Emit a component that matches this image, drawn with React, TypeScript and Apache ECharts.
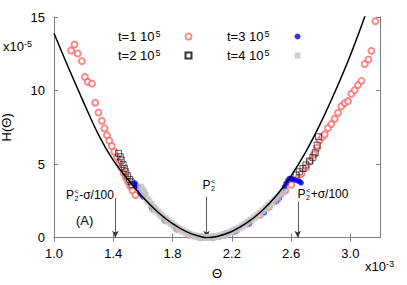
import React, { useEffect, useRef } from "react";
import * as echarts from "echarts";

// theoretical curve (Θ in 1e-3, H in 1e-5)
const curveTheta = [1.0, 1.1, 1.2, 1.3, 1.4, 1.5, 1.6, 1.7, 1.8, 1.9, 2.0, 2.03, 2.1, 2.2, 2.3, 2.4, 2.5, 2.6, 2.7, 2.8, 2.9, 3.0, 3.1];
const curveH = [13.9, 11.5, 9.2, 7.0, 5.25, 3.95, 2.75, 1.75, 0.95, 0.38, 0.05, 0.0, 0.08, 0.42, 1.0, 1.8, 2.85, 4.2, 5.85, 7.8, 10.0, 12.4, 15.1];

// t = 1 10^5 (open red circles)
const t1Theta = [1.115, 1.138, 1.16, 1.188, 1.208, 1.228, 1.256, 1.278, 1.3, 1.323, 1.341, 1.357, 1.373, 1.39, 1.407, 1.425, 1.44, 1.455, 1.47, 1.485, 1.5, 1.515, 1.53, 1.55, 1.6, 1.67, 1.75, 1.83, 1.91, 1.99, 2.07, 2.15, 2.23, 2.31, 2.39, 2.45, 2.51, 2.56, 2.6, 2.64, 2.67, 2.7, 2.73, 2.755, 2.775, 2.792, 2.81, 2.826, 2.849, 2.871, 2.894, 2.917, 2.939, 2.962, 2.984, 3.007, 3.029, 3.052, 3.075, 3.097, 3.122, 3.142, 3.169];
const t1H = [12.72, 13.13, 12.52, 12.0, 10.93, 10.59, 10.48, 9.17, 8.51, 7.95, 7.43, 6.97, 6.59, 6.23, 5.84, 5.46, 5.1, 4.75, 4.4, 4.1, 3.8, 3.5, 3.2, 2.9, 2.95, 1.95, 1.2, 0.6, 0.22, 0.03, 0.03, 0.2, 0.52, 0.98, 1.55, 2.1, 2.65, 3.2, 3.6, 4.0, 4.35, 4.75, 5.2, 5.65, 6.1, 6.6, 6.85, 7.02, 7.45, 7.72, 8.08, 8.49, 8.94, 9.16, 9.28, 9.78, 10.03, 10.37, 10.66, 11.81, 12.11, 12.7, 14.71];

// t = 2 10^5 (open black squares)
const t2Theta = [1.436, 1.447, 1.454, 1.466, 1.475, 1.484, 1.497, 1.51, 1.52, 1.527, 2.634, 2.656, 2.68, 2.7, 2.724, 2.747, 2.763, 2.776, 2.785];
const t2H = [5.73, 5.5, 5.27, 4.98, 4.71, 4.48, 4.21, 3.96, 3.8, 3.6, 4.26, 4.48, 4.71, 4.94, 5.21, 5.46, 5.77, 6.29, 6.86];

// t = 3 10^5 (filled blue circles)
const t3Theta = [1.545, 1.552, 1.56, 1.572, 1.58, 1.588, 1.6, 1.66, 1.74, 1.82, 1.92, 2.02, 2.12, 2.22, 2.32, 2.42, 2.5, 2.52, 2.532, 2.545, 2.555, 2.566, 2.578, 2.589, 2.6, 2.61, 2.625, 2.645, 2.66, 2.668];
const t3H = [3.72, 3.6, 3.5, 3.42, 3.1, 2.95, 2.78, 2.05, 1.3, 0.7, 0.22, 0.0, 0.07, 0.4, 0.95, 1.7, 2.45, 2.67, 2.9, 3.2, 3.46, 3.69, 3.9, 4.03, 4.02, 3.97, 3.93, 3.87, 3.8, 3.73];

// t = 4 10^5 (filled grey squares)
const t4Theta = [1.585, 1.595, 1.605, 1.615, 1.628, 1.64, 1.655, 1.67, 1.685, 1.7, 1.715, 1.73, 1.75, 1.77, 1.79, 1.81, 1.83, 1.85, 1.87, 1.89, 1.91, 1.93, 1.95, 1.97, 1.99, 2.01, 2.03, 2.05, 2.07, 2.09, 2.11, 2.13, 2.15, 2.17, 2.19, 2.21, 2.23, 2.25, 2.27, 2.29, 2.31, 2.33, 2.35, 2.37, 2.39, 2.41, 2.43, 2.45, 2.47, 2.49, 2.51, 2.53, 2.545];
const t4H = [3.45, 3.25, 3.1, 2.9, 2.6, 2.45, 2.25, 2.05, 1.9, 1.75, 1.6, 1.45, 1.3, 1.12, 0.97, 0.82, 0.68, 0.56, 0.45, 0.35, 0.26, 0.18, 0.12, 0.07, 0.04, 0.02, 0.01, 0.02, 0.04, 0.07, 0.11, 0.16, 0.22, 0.29, 0.37, 0.46, 0.56, 0.67, 0.79, 0.92, 1.06, 1.2, 1.35, 1.5, 1.66, 1.83, 2.0, 2.18, 2.36, 2.55, 2.74, 2.95, 3.1];

const xTicks = [1.0, 1.4, 1.8, 2.2, 2.6, 3.0];
const yTicks = [0, 5, 10, 15];

// annotation arrows (P2 - σ/100, P2, P2 + σ/100)
const arrowTheta = [1.414, 2.03, 2.645];
const arrowTop = [2.7, 2.78, 2.44];

const seriesNames = ["t=1 10^5", "t=2 10^5", "t=3 10^5", "t=4 10^5"];

const FONT = "Liberation Sans, Arial, Helvetica, sans-serif";
const AXIS_COLOR = "#7f7f7f";

const zip = (a: number[], b: number[]) => a.map((v, i) => [v, b[i]]);

export default function App() {
  const ref = useRef<HTMLDivElement>(null);
  useEffect(() => {
    if (!ref.current) return;
    const chart = echarts.init(ref.current, null, { renderer: "svg" });
    const legendFormatter = (name: string) => {
      const m = name.match(/^(t=\d) 10\^(\d)$/);
      return m ? `${m[1]} 10{sup|${m[2]}}` : name;
    };
    const legendText = {
      fontFamily: FONT,
      fontSize: 13,
      color: "#000",
      lineHeight: 15,
      padding: [0, 20, 0, 0],
      rich: { sup: { fontFamily: FONT, fontSize: 9, verticalAlign: "top", lineHeight: 15, padding: [0, 0, 0, 1] } },
    };
    const sup = { fontFamily: FONT, fontSize: 9, verticalAlign: "top" as const, lineHeight: 14 };
    const script = (x: number, y: number) => ({
      type: "text",
      x,
      y,
      style: { text: "<\n2", fontFamily: FONT, fontSize: 7, lineHeight: 7, fill: "#000", verticalAlign: "middle" },
    });
    const plain = (x: number, y: number, text: string, fs: number) => ({
      type: "text",
      x,
      y,
      style: { text, fontFamily: FONT, fontSize: fs, fill: "#000", verticalAlign: "middle" },
    });
    const option: any = {
      animation: false,
      backgroundColor: "#fff",
      grid: { left: 54, right: 27, top: 17, bottom: 47.3, containLabel: false, outerBoundsMode: "none" },
      legend: [
        {
          data: [seriesNames[0], seriesNames[1]],
          orient: "vertical",
          align: "right",
          left: 113,
          top: 24,
          itemWidth: 6,
          itemHeight: 6,
          itemGap: 4,
          formatter: legendFormatter,
          textStyle: legendText,
        },
        {
          data: [seriesNames[2], seriesNames[3]],
          orient: "vertical",
          align: "right",
          left: 222,
          top: 24,
          itemWidth: 6,
          itemHeight: 6,
          itemGap: 4,
          formatter: legendFormatter,
          textStyle: legendText,
        },
      ],
      xAxis: [
        {
          type: "value",
          min: 1.0,
          max: 3.2,
          position: "bottom",
          name: "Θ",
          nameLocation: "middle",
          nameGap: 29,
          nameTextStyle: { fontFamily: FONT, fontSize: 13, color: "#000" },
          axisLine: { lineStyle: { color: AXIS_COLOR, width: 1 } },
          axisTick: { inside: true, length: 4, customValues: xTicks, lineStyle: { color: AXIS_COLOR } },
          axisLabel: { customValues: xTicks, margin: 9, fontFamily: FONT, fontSize: 13, color: "#000", formatter: (v: number) => v.toFixed(1) },
          splitLine: { show: false },
        },
        {
          type: "value",
          min: 1.0,
          max: 3.2,
          position: "top",
          axisLine: { lineStyle: { color: AXIS_COLOR, width: 1 } },
          axisTick: { inside: true, length: 4, customValues: xTicks, lineStyle: { color: AXIS_COLOR } },
          axisLabel: { show: false },
          splitLine: { show: false },
        },
      ],
      yAxis: [
        {
          type: "value",
          min: 0,
          max: 15,
          interval: 5,
          position: "left",
          name: "H(Θ)",
          nameLocation: "middle",
          nameGap: 41,
          nameTextStyle: { fontFamily: FONT, fontSize: 13, color: "#000" },
          axisLine: { show: true, lineStyle: { color: AXIS_COLOR, width: 1 } },
          axisTick: { show: true, inside: true, length: 4, customValues: yTicks, lineStyle: { color: AXIS_COLOR } },
          axisLabel: { margin: 9, fontFamily: FONT, fontSize: 13, color: "#000" },
          splitLine: { show: false },
        },
        {
          type: "value",
          min: 0,
          max: 15,
          interval: 5,
          position: "right",
          axisLine: { show: true, lineStyle: { color: AXIS_COLOR, width: 1 } },
          axisTick: { show: true, inside: true, length: 4, lineStyle: { color: AXIS_COLOR } },
          axisLabel: { show: false },
          splitLine: { show: false },
        },
      ],
      series: [
        {
          name: seriesNames[0],
          type: "scatter",
          symbol: "emptyCircle",
          symbolSize: 6,
          itemStyle: { color: "#ff6b6b", borderColor: "#ff6b6b", borderWidth: 0.7, opacity: 0.8 },
          data: zip(t1Theta, t1H),
          z: 2,
        },
        {
          name: seriesNames[1],
          type: "scatter",
          symbol: "rect",
          symbolSize: 6,
          itemStyle: { color: "rgba(0,0,0,0)", borderColor: "#000", borderWidth: 0.8 },
          data: zip(t2Theta, t2H),
          z: 3,
        },
        {
          name: seriesNames[2],
          type: "scatter",
          symbol: "circle",
          symbolSize: 5.5,
          itemStyle: { color: "#0000ff" },
          data: zip(t3Theta, t3H),
          z: 4,
        },
        {
          name: seriesNames[3],
          type: "scatter",
          symbol: "rect",
          symbolSize: 7,
          itemStyle: { color: "#c4c4c4" },
          data: zip(t4Theta, t4H),
          z: 5,
        },
        {
          name: "curve",
          type: "line",
          smooth: 0.4,
          showSymbol: false,
          symbol: "none",
          clip: true,
          lineStyle: { color: "#000", width: 1.5 },
          data: zip(curveTheta, curveH),
          z: 6,
          markLine: {
            silent: true,
            symbol: ["none", "arrow"],
            symbolSize: [5, 7],
            label: { show: false },
            lineStyle: { color: "#333", width: 0.8, type: "solid" },
            data: arrowTheta.map((x, i) => [
              { coord: [x, arrowTop[i]], symbol: "none" },
              { coord: [x, 0], symbol: "arrow" },
            ]),
          },
        },
      ],
      graphic: [
        {
          type: "text",
          left: 3,
          top: 39,
          style: { text: "x10{sup|-5}", fontFamily: FONT, fontSize: 13, fill: "#000", lineHeight: 14, rich: { sup } },
        },
        {
          type: "text",
          left: 365,
          top: 259,
          style: { text: "x10{sup|-3}", fontFamily: FONT, fontSize: 13, fill: "#000", lineHeight: 14, rich: { sup } },
        },
        // P2< - σ/100
        plain(66, 194.5, "P", 12),
        script(74.5, 194.5),
        plain(79.2, 194.5, "-σ/100", 12),
        // (A)
        plain(76, 220, "(A)", 13),
        // P2<
        plain(202.5, 184.5, "P", 12),
        script(211, 184.5),
        // P2< + σ/100
        plain(297.5, 194, "P", 12),
        script(306, 194),
        plain(310.7, 194, "+σ/100", 12),
      ],
    };
    chart.setOption(option);
    return () => chart.dispose();
  }, []);
  return <div ref={ref} style={{ width: 407, height: 285, position: "absolute", left: 0, top: 0 }} />;
}
